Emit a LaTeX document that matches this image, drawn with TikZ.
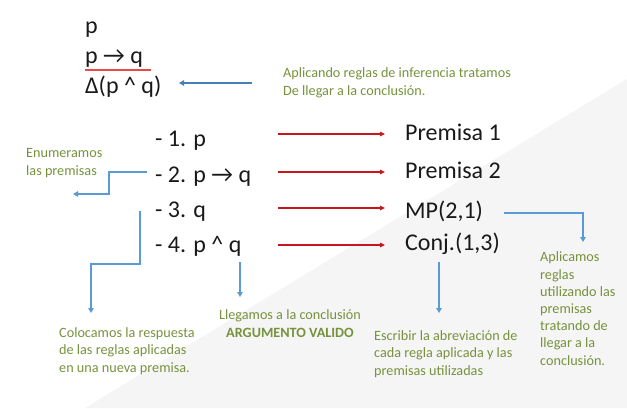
\documentclass[tikz,border=0pt]{standalone}
\usepackage{fontspec}
\setmainfont{Carlito}
\usetikzlibrary{arrows.meta}
\definecolor{olive}{HTML}{76923C}
\definecolor{lblue}{HTML}{5B9BD5}
\definecolor{dblue}{HTML}{4A7EBB}
\definecolor{rred}{HTML}{C8161E}
\definecolor{ured}{HTML}{E84A4A}
\definecolor{bggray}{HTML}{F5F5F5}
\begin{document}
\begin{tikzpicture}[x=1pt,y=-1pt,
  big/.style={font=\fontsize{24}{28}\selectfont, inner sep=0, anchor=base west, text=black!90},
  note/.style={font=\fontsize{14.2}{17.2}\selectfont, text=olive, inner sep=0, align=left, anchor=base west},
  barr/.style={draw=lblue, line width=1.8pt, -{Triangle[length=5pt,width=5.5pt]}},
  darr/.style={draw=dblue, line width=1.8pt, -{Triangle[length=5pt,width=5.5pt]}},
  rarr/.style={draw=rred, line width=1.8pt, -{Triangle[length=5pt,width=4.5pt]}}]
\useasboundingbox (0,0) rectangle (627,408);
\fill[bggray] (85,408) -- (627,408) -- (627,79) -- cycle;

% top argument
\node[big] (tp) at (85,33) {p};
\node[big] (tpq) at (85,63) {p → q};
\node[big] (tc) at (85,93) {Δ(p \^{} q)};
\coordinate (ul1) at (85,70);
\coordinate (ul2) at (151,70);
\draw[ured, line width=1.5pt] (ul1) -- (ul2);
\node[note] (n1) at (283,95) {Aplicando reglas de inferencia tratamos\\De llegar a la conclusión.};
\coordinate (a1s) at (252,83);
\coordinate (a1e) at (179,83);
\draw[darr] (a1s) -- (a1e);

% list
\node[big] (l1) at (155,146) {- 1. p};
\node[big] (l2) at (155,182) {- 2. p → q};
\node[big] (l3) at (155,217) {- 3. q};
\node[big] (l4) at (155,252) {- 4. p \^{} q};

\node[big] (r1) at (405,140) {Premisa 1};
\node[big] (r2) at (405,178) {Premisa 2};
\node[big] (r3) at (405,218) {MP(2,1)};
\node[big] (r4) at (405,250) {Conj.(1,3)};

\foreach \i/\y in {1/134,2/172,3/208,4/245}{
  \coordinate (rs\i) at (278,\y);
  \coordinate (re\i) at (385,\y);
  \draw[rarr] (rs\i) -- (re\i);
}

% notes
\node[note] (n2) at (26,175) {Enumeramos\\las premisas};
\coordinate (b2s) at (147,172);
\coordinate (b2e) at (73,194);
\draw[barr] (b2s) -- (109,172) -- (109,194) -- (b2e);

\node[note] (n3) at (59,372) {Colocamos la respuesta\\de las reglas aplicadas\\en una nueva premisa.};
\coordinate (b3s) at (140,211);
\coordinate (b3e) at (91,313);
\draw[barr] (b3s) -- (140,264) -- (91,264) -- (b3e);

\node[note, align=center, anchor=base] (n4) at (290,337) {Llegamos a la conclusión\\\textbf{ARGUMENTO VALIDO}};
\coordinate (b4s) at (240,262);
\coordinate (b4e) at (240,297);
\draw[barr] (b4s) -- (b4e);

\node[note] (n5) at (374,375) {Escribir la abreviación de\\cada regla aplicada y las\\premisas utilizadas};
\coordinate (b5s) at (439,262);
\coordinate (b5e) at (439,313);
\draw[barr] (b5s) -- (b5e);

\node[note] (n6) at (540,365) {Aplicamos\\reglas\\utilizando las\\premisas\\tratando de\\llegar a la\\conclusión.};
\coordinate (b6s) at (504,213);
\coordinate (b6e) at (583,242);
\draw[barr] (b6s) -- (583,213) -- (b6e);
\end{tikzpicture}
\end{document}
